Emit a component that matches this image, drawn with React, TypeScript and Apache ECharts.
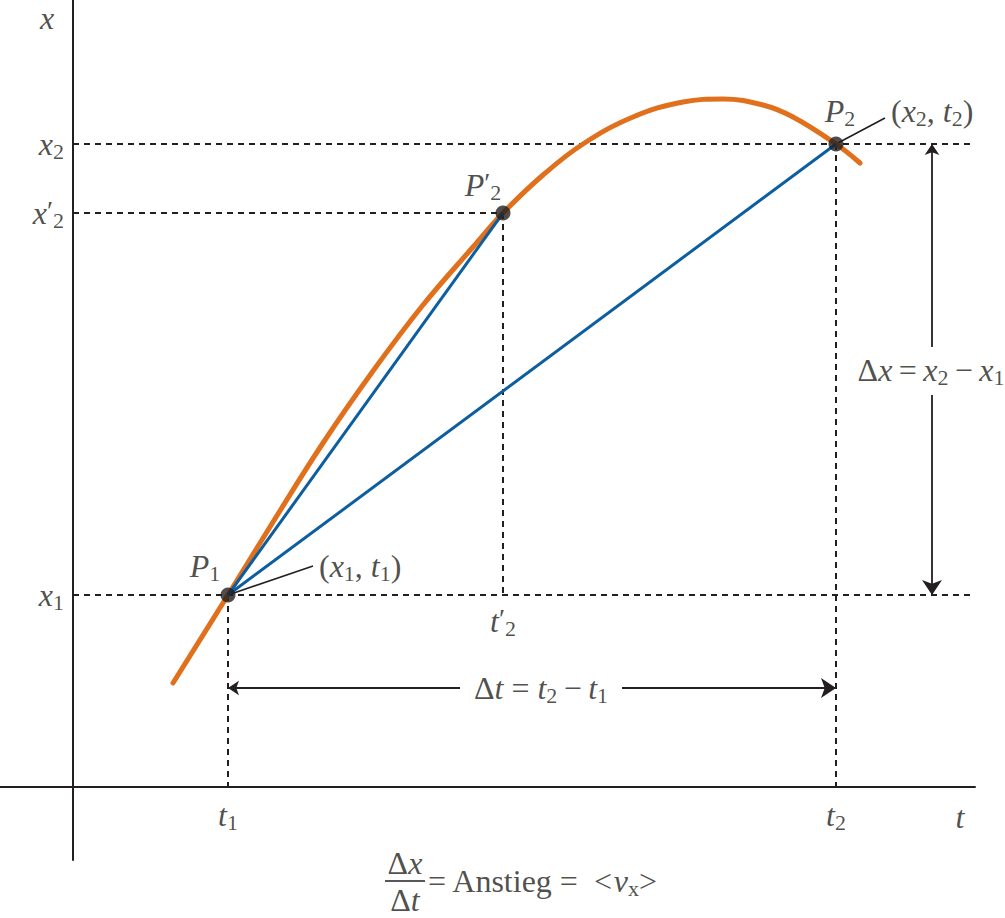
import React, { useEffect, useRef } from "react";
import * as echarts from "echarts";

// ---- data (t = horizontal, x = vertical), units of the diagram ----
const curveT = [100, 155, 200, 250, 300, 350, 400, 430, 470, 510, 560, 610, 650, 690, 720, 763, 787];
const curveX = [104, 192, 265, 344, 416, 482, 540, 574, 612, 643, 670, 685, 688, 682, 670, 643, 624];

const pointNames = ["P1", "P2'", "P2"];
const pointT = [155, 430, 763];
const pointX = [192, 574, 643];

const FONT = '"Liberation Serif", "DejaVu Serif", serif';
const INK = "#231f20";
const ORANGE = "#e1701c";
const BLUE = "#0d5e9f";

const T_MIN = -73, T_MAX = 902, X_MIN = -73, X_MAX = 787;

const RICH: any = {
  i: { fontFamily: FONT, fontStyle: "italic", fontSize: 32, color: INK },
  r: { fontFamily: FONT, fontSize: 32, color: INK },
  s: { fontFamily: FONT, fontSize: 22, color: INK, padding: [15, 0, 0, 0] },
  pr: { fontFamily: FONT, fontSize: 28, color: INK, padding: [0, 0, 6, 0] },
};

const TS = "\u2009";
const sym = (v: string, sub?: string, prime?: boolean) =>
  `{i|${v}}` + (prime ? `{pr|′}` : "") + (sub ? `{s|${sub}}` : "");

export default function App() {
  const ref = useRef<HTMLDivElement>(null);
  useEffect(() => {
    if (!ref.current) return;
    const chart = echarts.init(ref.current, null, { renderer: "svg" });

    const [P1, P2p, P2] = pointNames.map((_, k) => [pointT[k], pointX[k]]);
    const [t1, t2p, t2] = pointT;
    const [x1, x2p, x2] = pointX;
    const dtLevel = 99;
    const dxPos = 859;
    const dtGap = [387, 549];
    const dxGap = [440, 392];

    const labels: any[] = [
      { value: [-26, 769], text: "{i|x}", align: "center" },
      { value: [-9, x2], text: sym("x", "2"), align: "right" },
      { value: [-9, x2p], text: sym("x", "2", true), align: "right" },
      { value: [-9, x1], text: sym("x", "1"), align: "right" },
      { value: [t1, -28], text: sym("t", "1"), align: "center" },
      { value: [t2, -28], text: sym("t", "2"), align: "center" },
      { value: [887, -30], text: "{i|t}", align: "center" },
      { value: [t2p, 166], text: sym("t", "2", true), align: "center" },
      { value: [132, 221], text: sym("P", "1"), align: "center" },
      { value: [246, 221], text: `{r|(}${sym("x", "1")}{r|, }${sym("t", "1")}{r|)}`, align: "left" },
      { value: [410, 602], text: sym("P", "2", true), align: "center" },
      { value: [767, 676], text: sym("P", "2"), align: "center" },
      { value: [818, 676], text: `{r|(}${sym("x", "2")}{r|, }${sym("t", "2")}{r|)}`, align: "left" },
      { value: [468, dtLevel], text: `{r|Δ}{i|t}{r| = }${sym("t", "2")}{r|${TS}−${TS}}${sym("t", "1")}`, align: "center" },
      { value: [858, 417], text: `{r|Δ}{i|x}{r|${TS}=${TS}}${sym("x", "2")}{r|${TS}−${TS}}${sym("x", "1")}`, align: "center" },
      { value: [332, -76], text: "{r|Δ}{i|x}", align: "center" },
      { value: [332, -113], text: "{r|Δ}{i|t}", align: "center" },
      { value: [355, -94], text: "{r|= Anstieg =  <}{i|v}{s|x}{r|>}", align: "left" },
    ];

    const seg = (a: number[], b: number[]) => ({ coords: [a, b] });

    const option: any = {
      animation: false,
      backgroundColor: "#ffffff",
      grid: { left: 0, right: 30, top: 0, bottom: 58, containLabel: false },
      xAxis: {
        type: "value", min: T_MIN, max: T_MAX,
        axisLine: { show: true, onZero: true, lineStyle: { color: INK, width: 2 } },
        axisTick: { show: false }, axisLabel: { show: false }, splitLine: { show: false },
      },
      yAxis: {
        type: "value", min: X_MIN, max: X_MAX,
        axisLine: { show: true, onZero: true, lineStyle: { color: INK, width: 2 } },
        axisTick: { show: false }, axisLabel: { show: false }, splitLine: { show: false },
      },
      series: [
        {
          type: "lines", coordinateSystem: "cartesian2d", silent: true, z: 2, clip: false,
          lineStyle: { color: INK, width: 2, type: [6, 5], opacity: 1 },
          symbol: "none",
          data: [
            seg([0, x2], [T_MAX, x2]),
            seg([0, x2p], P2p),
            seg([0, x1], [T_MAX, x1]),
            seg(P1, [t1, 0]),
            seg(P2p, [t2p, x1]),
            seg(P2, [t2, 0]),
          ],
        },
        {
          type: "lines", coordinateSystem: "cartesian2d", silent: true, z: 3, clip: false,
          lineStyle: { color: INK, width: 1.8, opacity: 1 },
          symbol: ["arrow", "none"], symbolSize: [11, 15],
          data: [seg([t1, dtLevel], [dtGap[0], dtLevel]), seg([dxPos, x2], [dxPos, dxGap[0]])],
        },
        {
          type: "lines", coordinateSystem: "cartesian2d", silent: true, z: 3, clip: false,
          lineStyle: { color: INK, width: 1.8, opacity: 1 },
          symbol: ["none", "arrow"], symbolSize: [11, 15],
          data: [seg([dtGap[1], dtLevel], [t2, dtLevel]), seg([dxPos, dxGap[1]], [dxPos, x1])],
        },
        {
          type: "lines", coordinateSystem: "cartesian2d", silent: true, z: 3, clip: false,
          lineStyle: { color: INK, width: 1.6, opacity: 1 },
          symbol: "none",
          data: [seg(P1, [240, 221]), seg(P2, [812, 669]), seg([312, -94], [352, -94])],
        },
        {
          type: "line", silent: true, z: 4, smooth: 0.4, showSymbol: false,
          lineStyle: { color: ORANGE, width: 5, cap: "round" },
          data: curveT.map((t, k) => [t, curveX[k]]),
        },
        {
          type: "lines", coordinateSystem: "cartesian2d", silent: true, z: 5,
          lineStyle: { color: BLUE, width: 3, opacity: 1 },
          symbol: "none",
          data: [seg(P1, P2p), seg(P1, P2)],
        },
        {
          type: "scatter", silent: true, z: 6, symbolSize: 15,
          itemStyle: { color: INK },
          data: pointNames.map((n, k) => ({ name: n, value: [pointT[k], pointX[k]] })),
        },
        {
          type: "scatter", silent: true, z: 7, symbolSize: 1, clip: false,
          itemStyle: { color: "rgba(0,0,0,0)" },
          data: labels.map((l) => ({
            value: l.value,
            label: {
              show: true, position: "inside", align: l.align, verticalAlign: "middle",
              formatter: l.text, rich: RICH,
            },
          })),
        },
      ],
    };
    chart.setOption(option);
    return () => chart.dispose();
  }, []);
  return (
    <div
      ref={ref}
      style={{ position: "absolute", left: 0, top: 0, width: 1005, height: 918, background: "#fff" }}
    />
  );
}
